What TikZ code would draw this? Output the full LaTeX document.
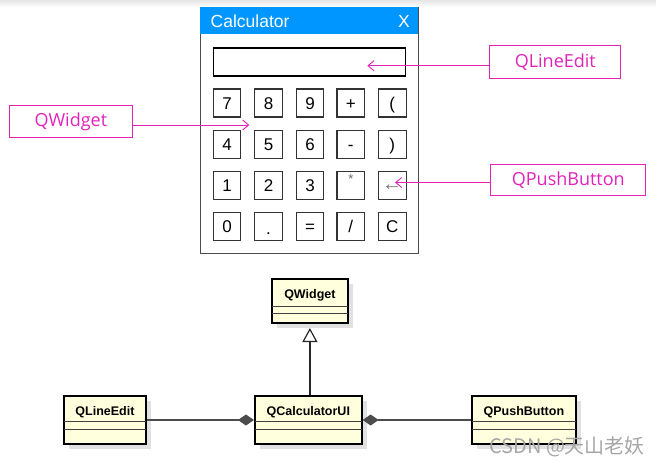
\documentclass[tikz,border=0pt]{standalone}
\usepackage{fontspec}
\setmainfont{Liberation Sans}
\newfontfamily\labelfont{Open Sans}
\newfontfamily\cjkfont{Noto Sans CJK SC}
\usepackage{xcolor}
\usetikzlibrary{arrows.meta, calc, positioning, shadows}

\definecolor{titleblue}{RGB}{0,150,255}
\definecolor{labelpink}{RGB}{225,35,185}
\definecolor{umlyellow}{RGB}{255,255,221}
\definecolor{umlshadow}{RGB}{225,225,225}

\begin{document}
\begin{tikzpicture}[x=1pt, y=-1pt,
    btn/.style={draw=black!80, line width=1.1pt, fill=white, minimum width=27.7pt, minimum height=28pt,
        inner sep=0pt, text height=12pt, text depth=0pt, font=\fontsize{17}{17}\selectfont},
    pinkbox/.style={draw=labelpink, line width=1pt, inner sep=0pt, text=labelpink,
        font=\labelfont\fontsize{18}{18}\selectfont},
    pinkarrow/.style={draw=labelpink, line width=0.9pt, -{Straight Barb[length=6pt,width=10pt]}},
    umlbox/.style={draw=black, line width=2pt, fill=umlyellow, inner sep=0pt,
        drop shadow={shadow xshift=5pt, shadow yshift=-5pt, opacity=1, fill=umlshadow}},
    umlname/.style={anchor=base, font=\bfseries\fontsize{12.5}{12.5}\selectfont, inner sep=0pt},
    umlline/.style={draw=black!75, line width=1pt},
    inherit/.style={draw=black!85, line width=1.2pt, -{Triangle[open, length=14pt, width=15pt, fill=white]}},
    compo/.style={draw=black!70, line width=1.2pt, -{Diamond[length=16pt, width=11pt, fill=black!70]}}]

        \useasboundingbox (0,0) rectangle (656,463);
        \shade[top color=black!10, bottom color=white] (0,0) rectangle (656,7);

        \draw[draw=black!70, line width=1pt, fill=white] (200,7.3) rectangle (418.3,253.3);
        \fill[titleblue] (200,7.3) rectangle (418.3,34.3);
        \node[anchor=west, inner sep=0pt, text=white, font=\fontsize{17.5}{17.5}\selectfont] (title) at (210.5,21) {Calculator};
        \node[inner sep=0pt, text=white, font=\fontsize{17.5}{17.5}\selectfont] (close) at (404,21) {X};

        \node[draw=black, line width=1.8pt, minimum width=192pt, minimum height=27.7pt] (display) at (309.4,62.2) {};

        \node[btn] (b7) at (227,103) {7};
        \node[btn] (b8) at (268.5,103) {8};
        \node[btn] (b9) at (310,103) {9};
        \node[btn] (bplus) at (350.8,103) {+};
        \node[btn] (blpar) at (392.2,103) {(};

        \node[btn] (b4) at (227,144.5) {4};
        \node[btn] (b5) at (268.5,144.5) {5};
        \node[btn] (b6) at (310,144.5) {6};
        \node[btn] (bminus) at (350.8,144.5) {-};
        \node[btn] (brpar) at (392.2,144.5) {)};

        \node[btn] (b1) at (227,185.5) {1};
        \node[btn] (b2) at (268.5,185.5) {2};
        \node[btn] (b3) at (310,185.5) {3};
        \node[btn, text=black!60, font=\fontsize{13}{13}\selectfont] (btimes) at (350.8,185.5) {\raisebox{8pt}{*}};
        \node[btn, text=black!55, font=\fontsize{20}{20}\selectfont] (bback) at (392.2,185.5) {\raisebox{1pt}{←}};

        \node[btn] (b0) at (227,226.5) {0};
        \node[btn] (bdot) at (268.5,226.5) {\raisebox{-2pt}{.}};
        \node[btn] (beq) at (310,226.5) {=};
        \node[btn] (bdiv) at (350.8,226.5) {/};
        \node[btn] (bclr) at (392.2,226.5) {C};

        \node[pinkbox, minimum width=130.7pt, minimum height=33.3pt] (lblEdit) at (555.3,61.7) {QLineEdit};
        \node[pinkbox, minimum width=123.7pt, minimum height=31.6pt] (lblWidget) at (70.9,121.5) {QWidget};
        \node[pinkbox, minimum width=155.3pt, minimum height=31.4pt] (lblButton) at (568.3,180) {QPushButton};

        \coordinate (tipEdit) at (367.3,65.7);
        \coordinate (tipWidget) at (249.3,125);
        \coordinate (tipButton) at (395,182.5);
        \draw[pinkarrow] (lblEdit.west |- tipEdit) -- (tipEdit);
        \draw[pinkarrow] (lblWidget.east |- tipWidget) -- (tipWidget);
        \draw[pinkarrow] (lblButton.west |- tipButton) -- (tipButton);

        \node[umlbox, minimum width=76.3pt, minimum height=44pt] (qw) at (309.9,301) {};
        \node[umlname] (qwName) at ($(qw.north)+(0,20.3)$) {QWidget};
        \draw[umlline] ($(qw.north west)+(1,28.7)$) -- ($(qw.north east)+(-1,28.7)$);
        \draw[umlline] ($(qw.north west)+(1,35)$) -- ($(qw.north east)+(-1,35)$);

        \node[umlbox, minimum width=106.7pt, minimum height=48pt] (qcu) at (308.3,420) {};
        \node[umlname] (qcuName) at ($(qcu.north)+(0,20.5)$) {QCalculatorUI};
        \draw[umlline] ($(qcu.north west)+(1,26.7)$) -- ($(qcu.north east)+(-1,26.7)$);
        \draw[umlline] ($(qcu.north west)+(1,34.5)$) -- ($(qcu.north east)+(-1,34.5)$);

        \node[umlbox, minimum width=82pt, minimum height=48pt] (qle) at (105,420) {};
        \node[umlname] (qleName) at ($(qle.north)+(0,20.5)$) {QLineEdit};
        \draw[umlline] ($(qle.north west)+(1,26.7)$) -- ($(qle.north east)+(-1,26.7)$);
        \draw[umlline] ($(qle.north west)+(1,34.5)$) -- ($(qle.north east)+(-1,34.5)$);

        \node[umlbox, minimum width=104.3pt, minimum height=48pt] (qpb) at (523.9,420) {};
        \node[umlname] (qpbName) at ($(qpb.north)+(0,20.5)$) {QPushButton};
        \draw[umlline] ($(qpb.north west)+(1,26.7)$) -- ($(qpb.north east)+(-1,26.7)$);
        \draw[umlline] ($(qpb.north west)+(1,34.5)$) -- ($(qpb.north east)+(-1,34.5)$);

        \draw[inherit, shorten >=4pt] (qcu.north -| qw.south) -- (qw.south);
        \draw[compo] (qle.east) -- (qcu.west);
        \draw[compo] (qpb.west) -- (qcu.east);

        \node[anchor=base west, inner sep=0pt, text=black!35, font=\cjkfont\fontsize{20}{20}\selectfont] (mark) at (489,453) {CSDN @天山老妖};
    \end{tikzpicture}
\end{document}
